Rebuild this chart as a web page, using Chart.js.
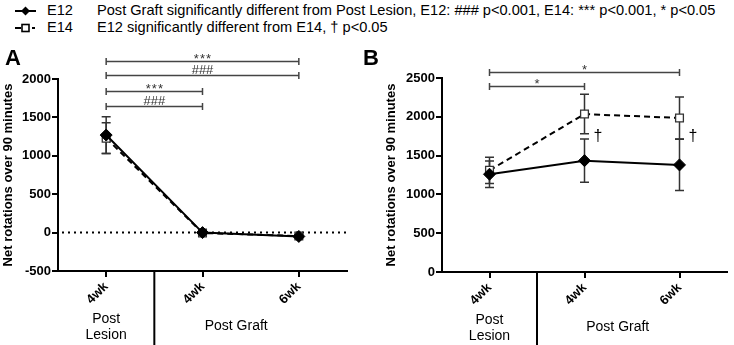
<!DOCTYPE html>
<html>
<head>
<meta charset="utf-8">
<script src="https://cdn.jsdelivr.net/npm/chart.js@4/dist/chart.umd.min.js"></script>
<style>
  html, body { margin: 0; padding: 0; background: #fff; }
  #wrap { position: relative; width: 734px; height: 345px; overflow: hidden; font-family: "Liberation Sans", Arial, sans-serif; }
  .leg { position: absolute; font-size: 14.6px; color: #000; white-space: nowrap; line-height: 16px; }
  canvas { position: absolute; }
</style>
</head>
<body>
<div id="wrap">
  <svg style="position:absolute;left:0;top:0" width="46" height="40">
    <line x1="15" y1="11" x2="36" y2="11" stroke="#000" stroke-width="2"/>
    <polygon points="25.5,6.5 30,11 25.5,15.5 21,11" fill="#000"/>
    <line x1="15" y1="28" x2="21" y2="28" stroke="#000" stroke-width="2"/>
    <rect x="22" y="24.5" width="7" height="7" fill="#fff" stroke="#000" stroke-width="1.6"/>
    <line x1="32" y1="28" x2="35" y2="28" stroke="#000" stroke-width="2"/>
  </svg>
  <div class="leg" style="left:47px;top:2px">E12</div>
  <div class="leg" style="left:97px;top:2px">Post Graft significantly different from Post Lesion, E12: ### p&lt;0.001, E14: *** p&lt;0.001, * p&lt;0.05</div>
  <div class="leg" style="left:47px;top:19px">E14</div>
  <div class="leg" style="left:97px;top:19px">E12 significantly different from E14, † p&lt;0.05</div>
  <canvas id="cA" width="360" height="305" style="left:0;top:40px"></canvas>
  <canvas id="cB" width="374" height="305" style="left:360px;top:40px"></canvas>
</div>
<script>
// ---- data ----
const categories = ['4wk', '4wk', '6wk'];
const seriesNames = ['E12', 'E14'];
const yTitle = 'Net rotations over 90 minutes';

// Panel A
const aE12 = [1270, 0, -50];
const aE12Sem = [240, 15, 15];
const aE14 = [1230, -5, -45];
const aE14Sem = [200, 15, 15];
const aTicks = [-500, 0, 500, 1000, 1500, 2000];
const aBrackets = [
  { from: 0, to: 2, level: 2240, label: '***' },
  { from: 0, to: 2, level: 2050, label: '###' },
  { from: 0, to: 1, level: 1845, label: '***' },
  { from: 0, to: 1, level: 1650, label: '###' }
];

// Panel B
const bE12 = [1260, 1435, 1380];
const bE12Sem = [170, 280, 330];
const bE14 = [1310, 2035, 1985];
const bE14Sem = [170, 255, 270];
const bTicks = [0, 500, 1000, 1500, 2000, 2500];
const bBrackets = [
  { from: 0, to: 2, level: 2580, label: '*' },
  { from: 0, to: 1, level: 2400, label: '*' }
];
const bDaggerIdx = [1, 2];
const bDaggerLevel = [1750, 1750];

const groupLabels = [
  { at: 0, lines: ['Post', 'Lesion'] },
  { at: 1.35, lines: ['Post Graft'] }
];

const FONT = '"Liberation Sans", Arial, sans-serif';
Chart.defaults.font.family = FONT;
Chart.defaults.color = '#000';

const panelPlugin = {
  id: 'panel',
  beforeDatasetsDraw(chart, args, o) {
    const ctx = chart.ctx, xs = chart.scales.x, ys = chart.scales.y, ca = chart.chartArea;
    ctx.save();
    if (o.zeroLine) {
      const y0 = ys.getPixelForValue(0);
      ctx.strokeStyle = '#000';
      ctx.lineWidth = 2;
      ctx.setLineDash([2, 4]);
      ctx.beginPath(); ctx.moveTo(ca.left + 4, y0); ctx.lineTo(ca.right, y0); ctx.stroke();
      ctx.setLineDash([]);
    }
    ctx.strokeStyle = '#333';
    ctx.lineWidth = 1.5;
    o.errors.forEach((err, di) => {
      const vals = chart.data.datasets[di].data;
      vals.forEach((v, i) => {
        const px = xs.getPixelForValue(i);
        const t = ys.getPixelForValue(v + err[i]);
        const b = ys.getPixelForValue(v - err[i]);
        ctx.beginPath();
        ctx.moveTo(px, t); ctx.lineTo(px, b);
        ctx.moveTo(px - 4.5, t); ctx.lineTo(px + 4.5, t);
        ctx.moveTo(px - 4.5, b); ctx.lineTo(px + 4.5, b);
        ctx.stroke();
      });
    });
    ctx.restore();
  },
  afterDraw(chart, args, o) {
    const ctx = chart.ctx, xs = chart.scales.x, ys = chart.scales.y, ca = chart.chartArea;
    ctx.save();
    // panel letter
    ctx.fillStyle = '#000';
    ctx.font = 'bold 22px ' + FONT;
    ctx.textAlign = 'left'; ctx.textBaseline = 'alphabetic';
    ctx.fillText(o.letter, o.letterX, 25);
    // brackets
    ctx.strokeStyle = '#444'; ctx.fillStyle = '#333'; ctx.lineWidth = 1.5;
    ctx.font = '13px ' + FONT;
    ctx.textAlign = 'center'; ctx.textBaseline = 'alphabetic';
    o.brackets.forEach(br => {
      const x1 = xs.getPixelForValue(br.from), x2 = xs.getPixelForValue(br.to);
      const y = Math.round(ys.getPixelForValue(br.level)) + 0.5;
      ctx.beginPath();
      ctx.moveTo(x1, y); ctx.lineTo(x2, y);
      ctx.moveTo(x1, y - 3.5); ctx.lineTo(x1, y + 3.5);
      ctx.moveTo(x2, y - 3.5); ctx.lineTo(x2, y + 3.5);
      ctx.stroke();
      const star = br.label[0] === '*';
      const txt = br.label.split('').join(star ? '\u200A' : '');
      ctx.fillText(txt, (x1 + x2) / 2, y + (star ? 1 : -1.5));
    });
    // daggers
    if (o.daggers) {
      ctx.fillStyle = '#000';
      ctx.font = '16px ' + FONT;
      ctx.textAlign = 'left'; ctx.textBaseline = 'middle';
      o.daggers.idx.forEach((idx, k) => {
        ctx.fillText('\u2020', xs.getPixelForValue(idx) + 9, ys.getPixelForValue(o.daggers.level[k]));
      });
    }
    // separator between groups
    const sepX = (xs.getPixelForValue(0) + xs.getPixelForValue(1)) / 2;
    ctx.strokeStyle = '#000'; ctx.lineWidth = 2;
    ctx.beginPath(); ctx.moveTo(sepX, ca.bottom); ctx.lineTo(sepX, chart.height); ctx.stroke();
    // group labels
    ctx.fillStyle = '#000';
    ctx.font = '14px ' + FONT;
    ctx.textAlign = 'center'; ctx.textBaseline = 'middle';
    groupLabels.forEach(g => {
      const x0 = xs.getPixelForValue(Math.floor(g.at));
      const x1 = xs.getPixelForValue(Math.min(Math.floor(g.at) + 1, categories.length - 1));
      const gx = x0 + (g.at - Math.floor(g.at)) * (x1 - x0);
      if (g.lines.length === 2) {
        ctx.fillText(g.lines[0], gx, ca.bottom + 48);
        ctx.fillText(g.lines[1], gx, ca.bottom + 64);
      } else {
        ctx.fillText(g.lines[0], gx, ca.bottom + 55);
      }
    });
    ctx.restore();
  }
};

function makePanel(id, cfg) {
  return new Chart(document.getElementById(id), {
    type: 'line',
    data: {
      labels: categories,
      datasets: [
        {
          label: seriesNames[0], data: cfg.e12,
          borderColor: '#000', backgroundColor: '#000', borderWidth: 2,
          pointStyle: 'rectRot', pointRadius: 6, pointHoverRadius: 6,
          pointBackgroundColor: '#000', pointBorderColor: '#000', pointBorderWidth: 1,
          tension: 0
        },
        {
          label: seriesNames[1], data: cfg.e14,
          borderColor: '#000', backgroundColor: '#fff', borderWidth: 2, borderDash: [6, 4],
          pointStyle: 'rect', pointRadius: 5.5, pointHoverRadius: 5.5,
          pointBackgroundColor: '#fff', pointBorderColor: '#333', pointBorderWidth: 1.3,
          tension: 0
        }
      ]
    },
    options: {
      responsive: false, animation: false, devicePixelRatio: 1,
      layout: { padding: { top: cfg.top, right: cfg.right, left: 0, bottom: 0 } },
      plugins: {
        legend: { display: false }, tooltip: { enabled: false },
        panel: cfg.plugin
      },
      scales: {
        x: {
          type: 'category', offset: true,
          grid: { drawOnChartArea: false, drawTicks: true, tickLength: 6, color: '#000', lineWidth: 2 },
          border: { display: true, color: '#000', width: 2 },
          ticks: { maxRotation: 45, minRotation: 45, padding: 2, font: { size: 13, weight: 'bold', family: FONT }, color: '#000' },
          afterFit: s => { s.height = cfg.xHeight; }
        },
        y: {
          min: cfg.ticks[0], max: cfg.ticks[cfg.ticks.length - 1],
          afterBuildTicks: s => { s.ticks = cfg.ticks.map(v => ({ value: v })); },
          grid: { drawOnChartArea: false, drawTicks: true, tickLength: 6, color: '#000', lineWidth: 2 },
          border: { display: true, color: '#000', width: 2 },
          ticks: { padding: 1, font: { size: 13, weight: 'bold', family: FONT }, color: '#000', callback: v => String(v) },
          title: { display: true, text: yTitle, font: { size: 13, weight: 'bold', family: FONT }, color: '#000', padding: { top: cfg.titlePad, bottom: 0 } },
          afterFit: s => { s.width = cfg.yWidth; }
        }
      }
    },
    plugins: [panelPlugin]
  });
}

makePanel('cA', {
  e12: aE12, e14: aE14, ticks: aTicks,
  top: 39, right: 13, xHeight: 74, yWidth: 58, titlePad: 1,
  plugin: { letter: 'A', letterX: 5, zeroLine: true, errors: [aE12Sem, aE14Sem], brackets: aBrackets }
});
makePanel('cB', {
  e12: bE12, e14: bE14, ticks: bTicks,
  top: 38, right: 2, xHeight: 73, yWidth: 82, titlePad: 24,
  plugin: { letter: 'B', letterX: 3, zeroLine: false, errors: [bE12Sem, bE14Sem], brackets: bBrackets,
            daggers: { idx: bDaggerIdx, level: bDaggerLevel } }
});
</script>
</body>
</html>
